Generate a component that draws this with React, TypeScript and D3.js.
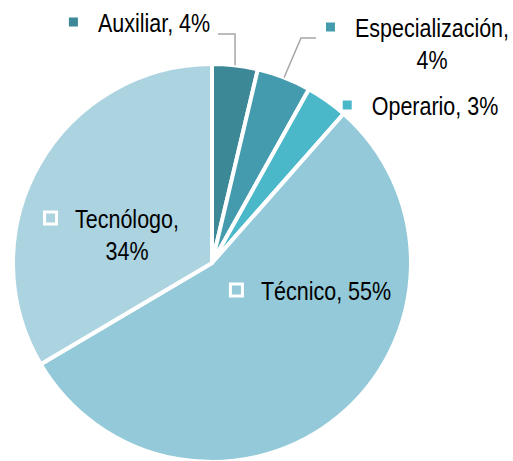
import React, { useEffect, useRef } from 'react';
import * as d3 from 'd3';

// chart data
const categories = ['Auxiliar', 'Especialización', 'Operario', 'Técnico', 'Tecnólogo'];
const shares = [3.7, 4.4, 3.4, 55.0, 33.5];
const colors = ['#3c8897', '#449bae', '#4bb8ca', '#93c9d8', '#abd3e0'];

// label placement (text block center x, first baseline y), picked by hand like the original
const labelPos = [
  { x: 154, y: 32, wrap: false },
  { x: 432, y: 37, wrap: true },
  { x: 435, y: 115, wrap: false },
  { x: 326, y: 300, wrap: false },
  { x: 127, y: 228, wrap: true },
];
// leader lines: elbow and end points for the small outside labels
const leaders = [
  { i: 0, elbow: [235, 34], end: [218, 34] },
  { i: 1, elbow: [301, 38], end: [316, 38] },
];

const W = 513;
const H = 461;
const FONT = "'Liberation Sans', Arial, sans-serif";
const SQUEEZE = 0.86; // no narrow face installed, so squeeze the regular one

const App = () => {
  const svgRef = useRef<SVGSVGElement | null>(null);

  useEffect(() => {
    const svg = d3.select(svgRef.current);
    svg.selectAll('*').remove();

    const cx = 212;
    const cy = 263;
    const r = 199;

    const pie = d3.pie<number>().sort(null).value(d => d);
    const arcs = pie(shares);
    const arc = d3.arc<d3.PieArcDatum<number>>().innerRadius(0).outerRadius(r);

    const g = svg.append('g').attr('transform', `translate(${cx},${cy})`);

    g.selectAll('path')
      .data(arcs)
      .join('path')
        .attr('d', arc)
        .attr('fill', (d, i) => colors[i])
        .attr('stroke', '#fff')
        .attr('stroke-width', 4)
        .attr('stroke-linejoin', 'round');

    // leader lines
    const outer = d3.arc<d3.PieArcDatum<number>>().innerRadius(r).outerRadius(r);
    leaders.forEach(l => {
      const [sx, sy] = outer.centroid(arcs[l.i]);
      svg.append('polyline')
        .attr('points', `${sx + cx},${sy + cy} ${l.elbow[0]},${l.elbow[1]} ${l.end[0]},${l.end[1]}`)
        .attr('fill', 'none')
        .attr('stroke', '#a6a6a6')
        .attr('stroke-width', 1.5);
    });

    // labels
    const lg = svg.append('g').attr('font-family', FONT).attr('font-size', 25).attr('fill', '#000');
    categories.forEach((name, i) => {
      const pos = labelPos[i];
      const pct = `${Math.round(shares[i])}%`;
      const lines = pos.wrap ? [`${name},`, pct] : [`${name}, ${pct}`];
      let firstWidth = 0;
      lines.forEach((t, k) => {
        const txt = lg.append('text')
          .attr('transform', `translate(${pos.x},${pos.y + k * 32}) scale(${SQUEEZE},1)`)
          .attr('text-anchor', 'middle')
          .text(t);
        if (k === 0) firstWidth = (txt.node() as SVGTextElement).getComputedTextLength() * SQUEEZE;
      });
      const left = pos.x - firstWidth / 2;
      lg.append('rect')
        .attr('x', left - 17 - 13.5)
        .attr('y', pos.y - 10 - 6)
        .attr('width', 12)
        .attr('height', 12)
        .attr('fill', colors[i])
        .attr('stroke', '#fff')
        .attr('stroke-width', 3);
    });
  }, []);

  return (
    <svg
      ref={svgRef}
      width={W}
      height={H}
      style={{ position: 'fixed', left: 0, top: 0, background: '#fff', display: 'block' }}
    />
  );
};

export default App;
